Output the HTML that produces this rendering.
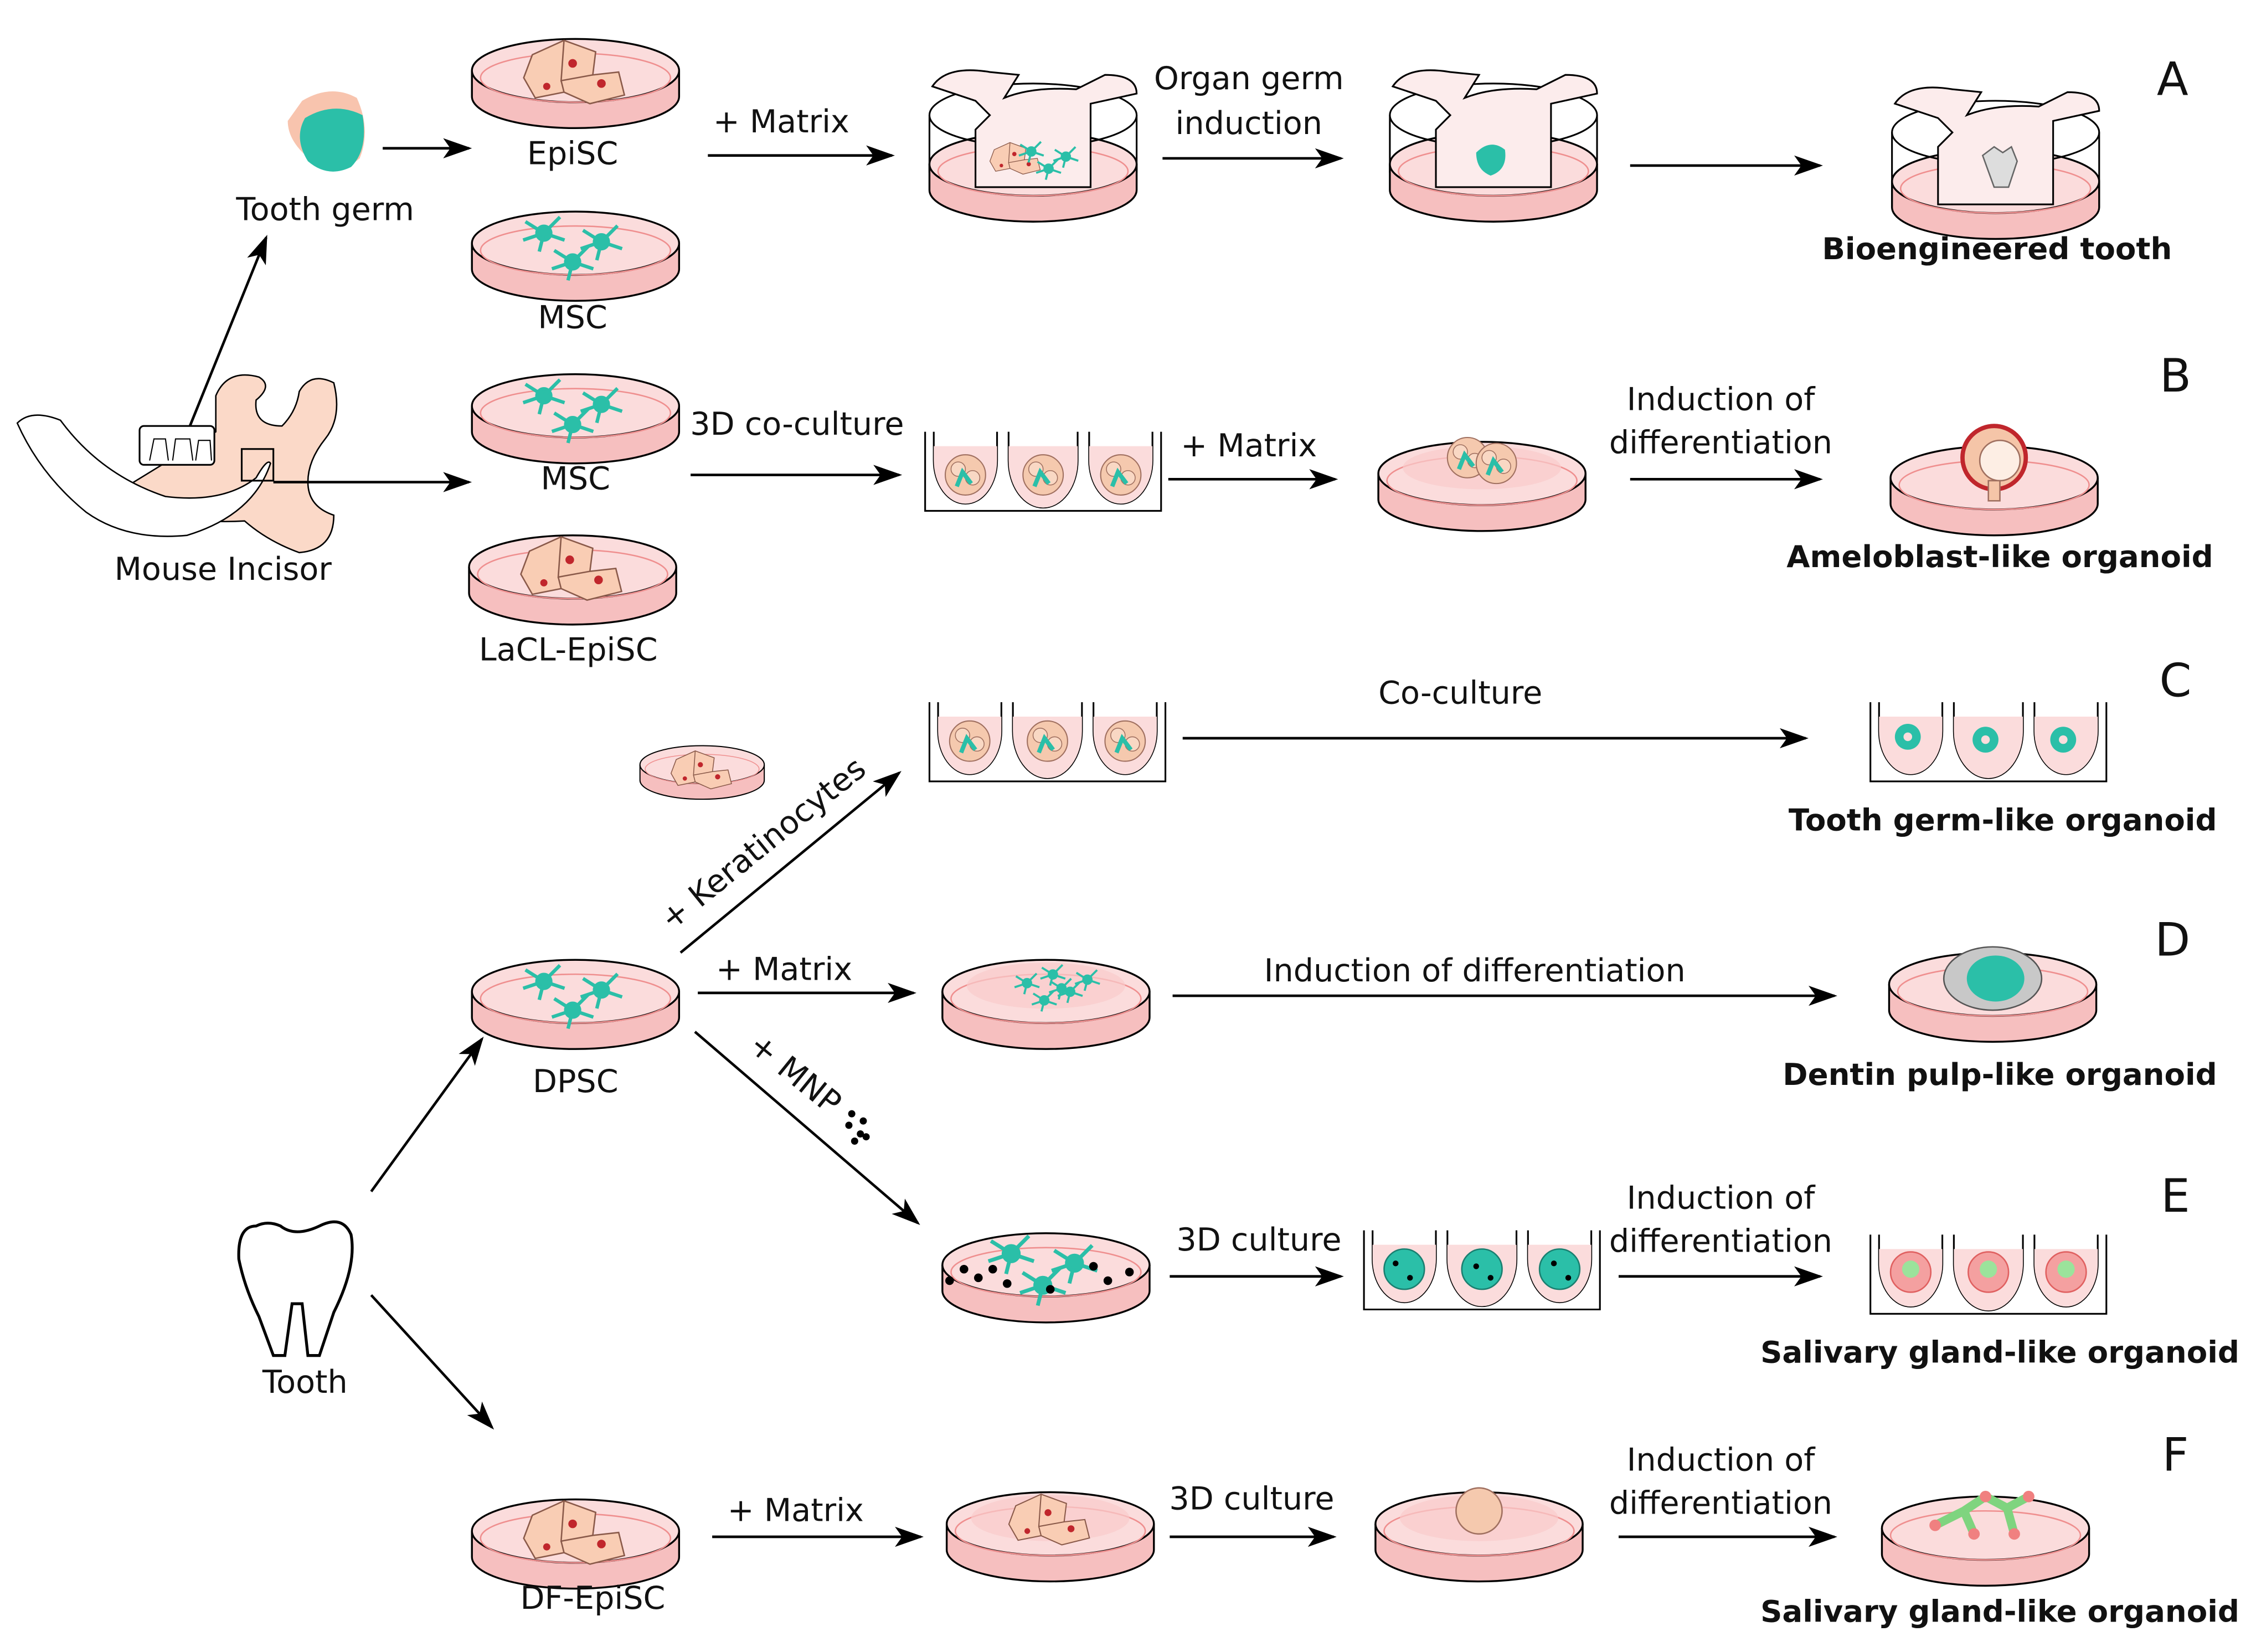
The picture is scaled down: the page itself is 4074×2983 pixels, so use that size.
<!DOCTYPE html>
<html><head><meta charset="utf-8"><style>
html,body{margin:0;padding:0;background:#fff;}
svg{display:block;}
text{font-family:"DejaVu Sans","Liberation Sans",sans-serif;fill:#111;}
.t{font-size:22px;text-anchor:middle;}
.b{font-size:21px;font-weight:bold;text-anchor:middle;}
.L{font-size:32px;text-anchor:middle;}
.ar{stroke:#000;stroke-width:1.8;fill:none;marker-end:url(#ah);}
</style></head><body>
<svg width="4074" height="2983" viewBox="0 0 1568 1148" xmlns="http://www.w3.org/2000/svg">
<defs>
<marker id="ah" viewBox="0 0 20 14" refX="18" refY="7" markerWidth="20" markerHeight="14" markerUnits="userSpaceOnUse" orient="auto">
<path d="M0,0 L20,7 L0,14 L5,7 Z" fill="#000"/></marker>
<g id="dish">
<path d="M-72,-6 L-72,12 A72,22 0 0 0 72,12 L72,-6" fill="#f6bfbf" stroke="#000" stroke-width="1.3"/>
<ellipse cx="0" cy="-6" rx="72" ry="22" fill="#fbdcdc" stroke="#000" stroke-width="1.3"/>
<ellipse cx="0" cy="-1" rx="66" ry="17" fill="none" stroke="#ef8f8f" stroke-width="1"/>
</g>
<g id="epi">
<path d="M-30,-12 L-8,-22 L14,-14 L12,2 L30,0 L34,16 L10,22 L-8,14 L-28,18 L-36,4 Z" fill="#f9cdb4" stroke="#8a5a4a" stroke-width="1"/>
<path d="M-8,-22 L-10,6 L12,2 M-10,6 L-8,14" fill="none" stroke="#8a5a4a" stroke-width="1"/>
<circle cx="-2" cy="-6" r="3" fill="#c0262c"/><circle cx="18" cy="8" r="3" fill="#c0262c"/><circle cx="-20" cy="10" r="2.5" fill="#c0262c"/>
</g>
<g id="star0" stroke="#2bbfa8" stroke-width="3" fill="#2bbfa8">
<circle r="6"/><path d="M0,0 L-16,-10 M0,0 L14,-14 M0,0 L18,6 M0,0 L-4,16 M0,0 L-18,6" fill="none"/>
</g>
<g id="star"><use href="#star0" transform="scale(0.8)"/></g>
<g id="msc"><use href="#star" x="-22" y="-8"/><use href="#star" x="18" y="-2"/><use href="#star" x="-2" y="12"/></g>
<g id="well">
<path d="M0,0 L0,55 L164,55 L164,0 M6,0 L6,20 A22,30 0 0 0 50,20 L50,0 M58,0 L58,20 A22,30 0 0 0 106,20 L106,0 M114,0 L114,20 A22,30 0 0 0 158,20 L158,0" fill="none" stroke="#000" stroke-width="1.2"/>
<path d="M6,10 L6,20 A22,30 0 0 0 50,20 L50,10 Z M58,10 L58,20 A22,30 0 0 0 106,20 L106,10 Z M114,10 L114,20 A22,30 0 0 0 158,20 L158,10 Z" fill="#fbdcdc"/>
</g>
<g id="sph"><circle r="14" fill="#f5c9ae" stroke="#a07060" stroke-width="0.8"/><circle cx="-5" cy="-4" r="5" fill="#f9d8c4" stroke="#a07060" stroke-width="0.6"/><circle cx="5" cy="2" r="5" fill="#f9d8c4" stroke="#a07060" stroke-width="0.6"/><path d="M-6,8 l4,-10 l6,8" stroke="#2bbfa8" stroke-width="3" fill="none"/></g>
<g id="insert">
<path d="M-72,-40 L-72,0 M72,-40 L72,0" stroke="#000" stroke-width="1.2"/>
<ellipse cx="0" cy="-40" rx="72" ry="22" fill="none" stroke="#000" stroke-width="1.2"/>
<path d="M-70,-60 Q-60,-75 -30,-70 L-10,-68 L-20,-52 Q0,-60 30,-58 L50,-68 Q72,-68 72,-55 L40,-48 L40,10 L-40,10 L-40,-30 L-30,-40 L-40,-50 Z" fill="#fcecec" stroke="#000" stroke-width="1.2"/>
</g>
</defs>
<rect width="1568" height="1148" fill="#fff"/>

<!-- Row A -->
<path d="M210,70 Q230,58 248,68 Q258,90 250,110 Q236,122 220,114 Q200,100 200,84 Z" fill="#f8c4ae"/>
<path d="M212,82 Q232,70 252,80 Q256,104 244,116 Q228,124 214,112 Q204,96 212,82 Z" fill="#2bbfa8"/>
<text class="t" x="226" y="153">Tooth germ</text>
<line class="ar" x1="266" y1="103" x2="326" y2="103"/>
<use href="#dish" x="400" y="55"/><use href="#epi" x="400" y="50"/>
<text class="t" x="398" y="114">EpiSC</text>
<use href="#dish" x="400" y="175"/><use href="#msc" x="400" y="170"/>
<text class="t" x="398" y="228">MSC</text>
<text class="t" x="543" y="92">+ Matrix</text>
<line class="ar" x1="492" y1="108" x2="620" y2="108"/>
<use href="#dish" x="718" y="120"/><use href="#insert" x="718" y="120"/>
<g transform="translate(706,110) scale(0.5)"><use href="#epi"/></g><g transform="translate(730,110) scale(0.6)"><use href="#msc"/></g>
<text class="t" x="868" y="62">Organ germ</text><text class="t" x="868" y="93">induction</text>
<line class="ar" x1="808" y1="110" x2="932" y2="110"/>
<use href="#dish" x="1038" y="120"/><use href="#insert" x="1038" y="120"/>
<path d="M1026,106 Q1036,96 1046,104 Q1048,118 1036,122 Q1026,118 1026,106Z" fill="#2bbfa8"/>
<line class="ar" x1="1133" y1="115" x2="1265" y2="115"/>
<use href="#dish" x="1387" y="132"/><use href="#insert" x="1387" y="132"/>
<path d="M1378,108 l8,-6 l6,4 l6,-4 l4,10 l-6,18 l-10,0 Z" fill="#ddd" stroke="#666"/>
<text class="L" x="1510" y="66">A</text>
<text class="b" x="1388" y="180">Bioengineered tooth</text>

<!-- Mouse incisor -->
<path d="M150,275 Q158,256 180,262 Q190,268 178,278 Q176,296 196,296 Q206,286 208,272 Q216,258 232,266 Q238,290 226,305 Q214,320 214,335 Q214,352 232,358 Q232,382 208,384 Q186,376 170,362 Q120,365 75,346 L150,300 Z" fill="#fbd9c8" stroke="#000" stroke-width="1"/>
<path d="M12,294 Q22,284 42,292 Q70,330 115,345 Q155,350 178,332 Q186,318 188,322 Q176,358 130,372 Q88,376 60,356 Q28,330 12,294 Z" fill="#fff" stroke="#000" stroke-width="1"/>
<rect x="97" y="296" width="52" height="27" rx="3" fill="#fff" stroke="#000" stroke-width="1.2"/>
<path d="M104,320 l3,-15 l8,0 l2,15 M120,320 l2,-15 l10,0 l2,15 M136,320 l2,-14 l8,0 l1,14" fill="none" stroke="#000" stroke-width="0.8"/>
<rect x="168" y="312" width="22" height="22" fill="none" stroke="#000" stroke-width="1.2"/>
<text class="t" x="155" y="403">Mouse Incisor</text>
<line class="ar" x1="132" y1="296" x2="185" y2="165"/>
<line class="ar" x1="190" y1="335" x2="326" y2="335"/>

<!-- Row B -->
<use href="#dish" x="400" y="288"/><use href="#msc" x="400" y="283"/>
<text class="t" x="400" y="340">MSC</text>
<use href="#dish" x="398" y="400"/><use href="#epi" x="398" y="395"/>
<text class="t" x="395" y="459">LaCL-EpiSC</text>
<text class="t" x="554" y="302">3D co-culture</text>
<line class="ar" x1="480" y1="330" x2="625" y2="330"/>
<use href="#well" x="643" y="300"/>
<use href="#sph" x="671" y="330"/><use href="#sph" x="725" y="330"/><use href="#sph" x="779" y="330"/>
<text class="t" x="868" y="317">+ Matrix</text>
<line class="ar" x1="812" y1="333" x2="928" y2="333"/>
<use href="#dish" x="1030" y="335"/>
<ellipse cx="1030" cy="325" rx="55" ry="15" fill="#f9caca" opacity="0.7"/>
<use href="#sph" x="1020" y="318"/><use href="#sph" x="1040" y="322"/>
<text class="t" x="1196" y="285">Induction of</text><text class="t" x="1196" y="315">differentiation</text>
<line class="ar" x1="1133" y1="333" x2="1265" y2="333"/>
<use href="#dish" x="1386" y="338"/>
<circle cx="1386" cy="318" r="22" fill="#f5c5a8" stroke="#c0262c" stroke-width="3"/>
<circle cx="1390" cy="320" r="14" fill="#fdeee4" stroke="#a07060"/>
<rect x="1382" y="334" width="8" height="14" fill="#f5c5a8" stroke="#a07060"/>
<text class="L" x="1512" y="272">B</text>
<text class="b" x="1390" y="394">Ameloblast-like organoid</text>

<!-- Row C -->
<g transform="translate(488,535) scale(0.6)"><use href="#dish"/><use href="#epi"/></g>
<use href="#well" x="646" y="488"/>
<use href="#sph" x="674" y="515"/><use href="#sph" x="728" y="515"/><use href="#sph" x="782" y="515"/>
<text class="t" x="1015" y="489">Co-culture</text>
<line class="ar" x1="822" y1="513" x2="1255" y2="513"/>
<use href="#well" x="1300" y="488"/>
<g fill="#2bbfa8"><circle cx="1326" cy="512" r="9"/><circle cx="1380" cy="514" r="9"/><circle cx="1434" cy="514" r="9"/></g>
<g fill="#fbdcdc"><circle cx="1326" cy="512" r="3"/><circle cx="1380" cy="514" r="3"/><circle cx="1434" cy="514" r="3"/></g>
<text class="L" x="1512" y="484">C</text>
<text class="b" x="1392" y="577">Tooth germ-like organoid</text>

<!-- DPSC -->
<use href="#dish" x="400" y="695"/><use href="#msc" x="400" y="690"/>
<text class="t" x="400" y="759">DPSC</text>
<line class="ar" x1="473" y1="662" x2="625" y2="537"/>
<text class="t" x="535" y="592" transform="rotate(-39 535 592)">+ Keratinocytes</text>
<text class="t" x="545" y="681">+ Matrix</text>
<line class="ar" x1="485" y1="690" x2="635" y2="690"/>
<use href="#dish" x="727" y="695"/>
<ellipse cx="727" cy="685" rx="55" ry="16" fill="#f9caca" opacity="0.7"/>
<g transform="translate(727,688) scale(0.6)"><use href="#msc"/><use href="#msc" x="30" y="-10"/></g>
<text class="t" x="1025" y="682">Induction of differentiation</text>
<line class="ar" x1="815" y1="692" x2="1275" y2="692"/>
<use href="#dish" x="1385" y="690"/>
<ellipse cx="1385" cy="680" rx="34" ry="22" fill="#c8c8c8" stroke="#555"/>
<ellipse cx="1387" cy="680" rx="20" ry="16" fill="#2bbfa8"/>
<text class="L" x="1510" y="664">D</text>
<text class="b" x="1390" y="754">Dentin pulp-like organoid</text>

<!-- MNP -->
<line class="ar" x1="483" y1="717" x2="638" y2="850"/>
<text class="t" x="548" y="752" transform="rotate(39 548 752)">+ MNP</text>
<g fill="#000"><circle cx="592" cy="774" r="2.5"/><circle cx="600" cy="779" r="2.5"/><circle cx="590" cy="782" r="2.5"/><circle cx="598" cy="788" r="2.5"/><circle cx="594" cy="793" r="2.5"/><circle cx="602" cy="790" r="2.5"/></g>
<use href="#dish" x="727" y="885"/>
<g transform="translate(727,880) scale(1.1)"><use href="#msc"/></g>
<g fill="#000"><circle cx="670" cy="882" r="3"/><circle cx="680" cy="888" r="3"/><circle cx="690" cy="882" r="3"/><circle cx="700" cy="892" r="3"/><circle cx="760" cy="880" r="3"/><circle cx="770" cy="890" r="3"/><circle cx="785" cy="884" r="3"/><circle cx="730" cy="896" r="3"/><circle cx="660" cy="890" r="3"/></g>
<text class="t" x="875" y="869">3D culture</text>
<line class="ar" x1="813" y1="887" x2="932" y2="887"/>
<use href="#well" x="948" y="855"/>
<g fill="#2bbfa8" stroke="#1a7f70"><circle cx="976" cy="882" r="14"/><circle cx="1030" cy="882" r="14"/><circle cx="1084" cy="882" r="14"/></g>
<g fill="#000"><circle cx="970" cy="878" r="2"/><circle cx="980" cy="888" r="2"/><circle cx="1026" cy="880" r="2"/><circle cx="1036" cy="888" r="2"/><circle cx="1080" cy="878" r="2"/><circle cx="1090" cy="888" r="2"/></g>
<text class="t" x="1196" y="840">Induction of</text><text class="t" x="1196" y="870">differentiation</text>
<line class="ar" x1="1125" y1="887" x2="1265" y2="887"/>
<use href="#well" x="1300" y="858"/>
<g fill="#f4a0a0" stroke="#e06060"><circle cx="1328" cy="884" r="14"/><circle cx="1382" cy="884" r="14"/><circle cx="1436" cy="884" r="14"/></g>
<g fill="#9be39b"><circle cx="1328" cy="882" r="6"/><circle cx="1382" cy="882" r="6"/><circle cx="1436" cy="882" r="6"/></g>
<text class="L" x="1512" y="842">E</text>
<text class="b" x="1390" y="947">Salivary gland-like organoid</text>

<!-- Tooth -->
<path d="M178,852 Q165,852 166,875 Q170,895 180,915 L190,942 L198,942 L203,906 L210,906 L214,942 L222,942 L232,912 Q248,880 244,858 Q238,844 222,852 Q205,860 195,852 Q186,848 178,852 Z" fill="#fff" stroke="#000" stroke-width="2"/>
<text class="t" x="212" y="968">Tooth</text>
<line class="ar" x1="258" y1="828" x2="335" y2="722"/>
<line class="ar" x1="258" y1="900" x2="342" y2="992"/>

<!-- Row F -->
<use href="#dish" x="400" y="1070"/><use href="#epi" x="400" y="1065"/>
<text class="t" x="412" y="1118">DF-EpiSC</text>
<text class="t" x="553" y="1057">+ Matrix</text>
<line class="ar" x1="495" y1="1068" x2="640" y2="1068"/>
<use href="#dish" x="730" y="1065"/>
<ellipse cx="730" cy="1055" rx="55" ry="16" fill="#f9caca" opacity="0.7"/>
<g transform="translate(730,1056) scale(0.8)"><use href="#epi"/></g>
<text class="t" x="870" y="1049">3D culture</text>
<line class="ar" x1="813" y1="1068" x2="927" y2="1068"/>
<use href="#dish" x="1028" y="1065"/>
<ellipse cx="1028" cy="1055" rx="55" ry="16" fill="#f9caca" opacity="0.7"/>
<circle cx="1028" cy="1050" r="16" fill="#f5c9ae" stroke="#a07060"/>
<text class="t" x="1196" y="1022">Induction of</text><text class="t" x="1196" y="1052">differentiation</text>
<line class="ar" x1="1125" y1="1068" x2="1275" y2="1068"/>
<use href="#dish" x="1380" y="1068"/>
<path d="M1345,1060 L1365,1050 L1380,1040 L1395,1048 L1410,1040 M1365,1050 L1372,1066 M1395,1048 L1400,1066" stroke="#7fd47f" stroke-width="6" fill="none"/>
<g fill="#f08080"><circle cx="1345" cy="1060" r="4"/><circle cx="1380" cy="1040" r="4"/><circle cx="1410" cy="1040" r="4"/><circle cx="1372" cy="1066" r="4"/><circle cx="1400" cy="1066" r="4"/></g>
<text class="L" x="1512" y="1022">F</text>
<text class="b" x="1390" y="1127">Salivary gland-like organoid</text>
</svg>
</body></html>
